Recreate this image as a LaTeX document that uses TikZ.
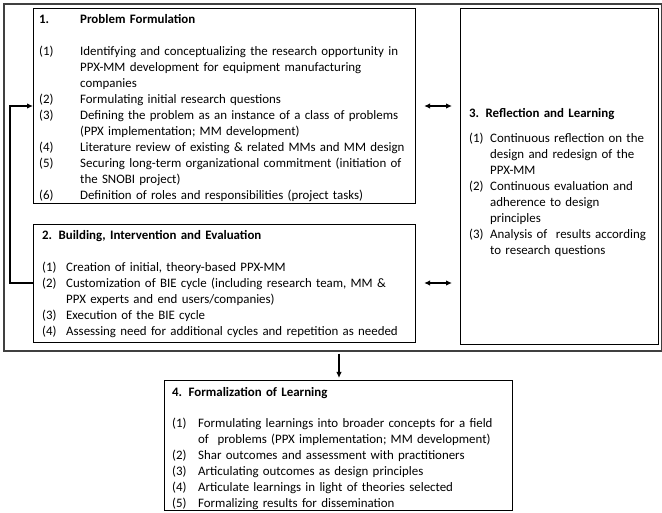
\documentclass[tikz,border=0pt]{standalone}
\usepackage{fontspec}
\setmainfont{Carlito}
\usetikzlibrary{arrows.meta,calc}
\setlength{\parindent}{0pt}
\newcommand{\fsz}{\fontsize{12.9}{16}\selectfont}
\newcommand{\jl}[2]{\makebox[#1][s]{#2}}
\newcommand{\ilab}[2]{\makebox[#1][l]{#2}}
\newcommand{\fst}{\rule{0pt}{11pt}}
\tikzset{
  boxnode/.style={draw=black, line width=1.1pt, inner sep=0pt, anchor=north west},
  outerbox/.style={draw=black!75, line width=1.6pt, inner sep=0pt, anchor=north west},
  txt/.style={inner sep=0pt, anchor=north west, align=left, font=\fsz},
  arr/.style={-{Latex[length=6pt,width=5.5pt]}, line width=1.3pt},
  dbl/.style={{Latex[length=6pt,width=5.5pt]}-{Latex[length=6pt,width=5.5pt]}, line width=1.3pt},
  loopline/.style={-{Latex[length=6pt,width=5.5pt]}, line width=1.5pt}
}
\begin{document}
\begin{tikzpicture}[x=1pt,y=-1pt]
\useasboundingbox (0,0) rectangle (662,513);
% boxes
\node[outerbox, minimum width=658pt, minimum height=347pt] (outer) at (3,3) {};
\node[boxnode, minimum width=382pt, minimum height=195pt] (b1) at (33,8) {};
\node[boxnode, minimum width=382pt, minimum height=118pt] (b2) at (33,224) {};
\node[boxnode, minimum width=198pt, minimum height=336pt, line width=1.4pt] (b3) at (460,8) {};
\node[boxnode, minimum width=348pt, minimum height=130pt] (b4) at (164,380) {};
% texts
\node[txt, text width=369pt] (t1) at (39,12.5) {%
\fst\ilab{41pt}{\textbf{1.}}\textbf{Problem Formulation}\par
\vspace{16pt}
\ilab{41pt}{(1)}\jl{328pt}{Identifying and conceptualizing the research opportunity in}\par
\hspace*{41pt}\jl{328pt}{PPX-MM development for equipment manufacturing}\par
\hspace*{41pt}companies\par
\ilab{41pt}{(2)}Formulating initial research questions\par
\ilab{41pt}{(3)}\jl{328pt}{Defining the problem as an instance of a class of problems}\par
\hspace*{41pt}(PPX implementation; MM development)\par
\ilab{41pt}{(4)}Literature review of existing \& related MMs and MM design\par
\ilab{41pt}{(5)}\jl{328pt}{Securing long-term organizational commitment (initiation of}\par
\hspace*{41pt}the SNOBI project)\par
\ilab{41pt}{(6)}Definition of roles and responsibilities (project tasks)\par};
\node[txt, text width=367pt] (t2) at (42,228.5) {%
\fst\textbf{2. Building, Intervention and Evaluation}\par
\vspace{16pt}
\ilab{24pt}{(1)}Creation of initial, theory-based PPX-MM\par
\ilab{24pt}{(2)}\jl{343pt}{Customization of BIE cycle (including research team, MM \&}\par
\hspace*{24pt}PPX experts and end users/companies)\par
\ilab{24pt}{(3)}Execution of the BIE cycle\par
\ilab{24pt}{(4)}Assessing need for additional cycles and repetition as needed\par};
\node[txt, text width=190pt] (t3) at (469,106.5) {%
\fst\textbf{3. Reflection and Learning}\par
\vspace{9pt}
\ilab{21pt}{(1)}Continuous reflection on the\par
\hspace*{21pt}design and redesign of the\par
\hspace*{21pt}PPX-MM\par
\ilab{21pt}{(2)}Continuous evaluation and\par
\hspace*{21pt}adherence to design\par
\hspace*{21pt}principles\par
\ilab{21pt}{(3)}Analysis of\ \ results according\par
\hspace*{21pt}to research questions\par};
\node[txt, text width=331pt] (t4) at (172,385.5) {%
\fst\textbf{4. Formalization of Learning}\par
\vspace{15pt}
\ilab{26pt}{(1)}\jl{305pt}{Formulating learnings into broader concepts for a field}\par
\hspace*{26pt}of\ \ problems (PPX implementation; MM development)\par
\ilab{26pt}{(2)}Shar outcomes and assessment with practitioners\par
\ilab{26pt}{(3)}Articulating outcomes as design principles\par
\ilab{26pt}{(4)}Articulate learnings in light of theories selected\par
\ilab{26pt}{(5)}Formalizing results for dissemination\par};
% connectors
\coordinate (c1) at (0,106);
\coordinate (c2) at (0,283);
\coordinate (lp) at (10,0);
\coordinate (ax) at (339,0);
\draw[loopline] (b2.west |- c2) -- (lp |- c2) -- (lp |- c1) -- (b1.west |- c1);
\draw[dbl, shorten <=8pt, shorten >=8pt] (b1.east |- c1) -- (b3.west |- c1);
\draw[dbl, shorten <=8pt, shorten >=8pt] (b2.east |- c2) -- (b3.west |- c2);
\draw[arr, shorten <=2pt, shorten >=2pt] (outer.south -| ax) -- (b4.north -| ax);
\end{tikzpicture}
\end{document}
